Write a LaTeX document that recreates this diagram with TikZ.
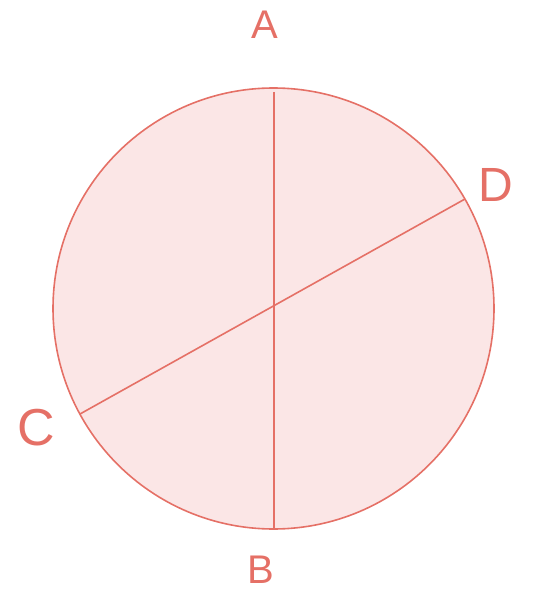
\documentclass[tikz,border=0pt]{standalone}
\usepackage{fontspec}
\setmainfont{Liberation Sans}
\definecolor{penred}{RGB}{229,112,102}
\definecolor{diskpink}{RGB}{251,230,230}
\begin{document}
\begin{tikzpicture}[x=1pt,y=-1pt,thick,
    rim/.style={draw=penred,fill=diskpink,line width=1.6pt},
    chord/.style={draw=penred,line width=1.6pt},
    letter/.style={text=penred,font=\fontsize{40}{40}\selectfont,inner sep=0pt} ]
    \useasboundingbox (0,0) rectangle (536,596);
    \node at (273.5,308.5) [circle,rim,minimum size=441pt,inner sep=0pt] (O) {};
    \coordinate (a) at (274,92);
    \coordinate (b) at (274,529);
    \coordinate (c) at (80,414);
    \coordinate (d) at (465,199);
    \draw [chord] (a) to (b);
    \draw [chord] (c) to (d);
    \node at (265,25) [letter] (A) {A};
    \node at (261,570) [letter] (B) {B};
    \node at (36,428) [letter,font=\fontsize{52}{52}\selectfont] (C) {C};
    \node at (496,185) [letter,font=\fontsize{48}{48}\selectfont] (D) {D};
\end{tikzpicture}
\end{document}
